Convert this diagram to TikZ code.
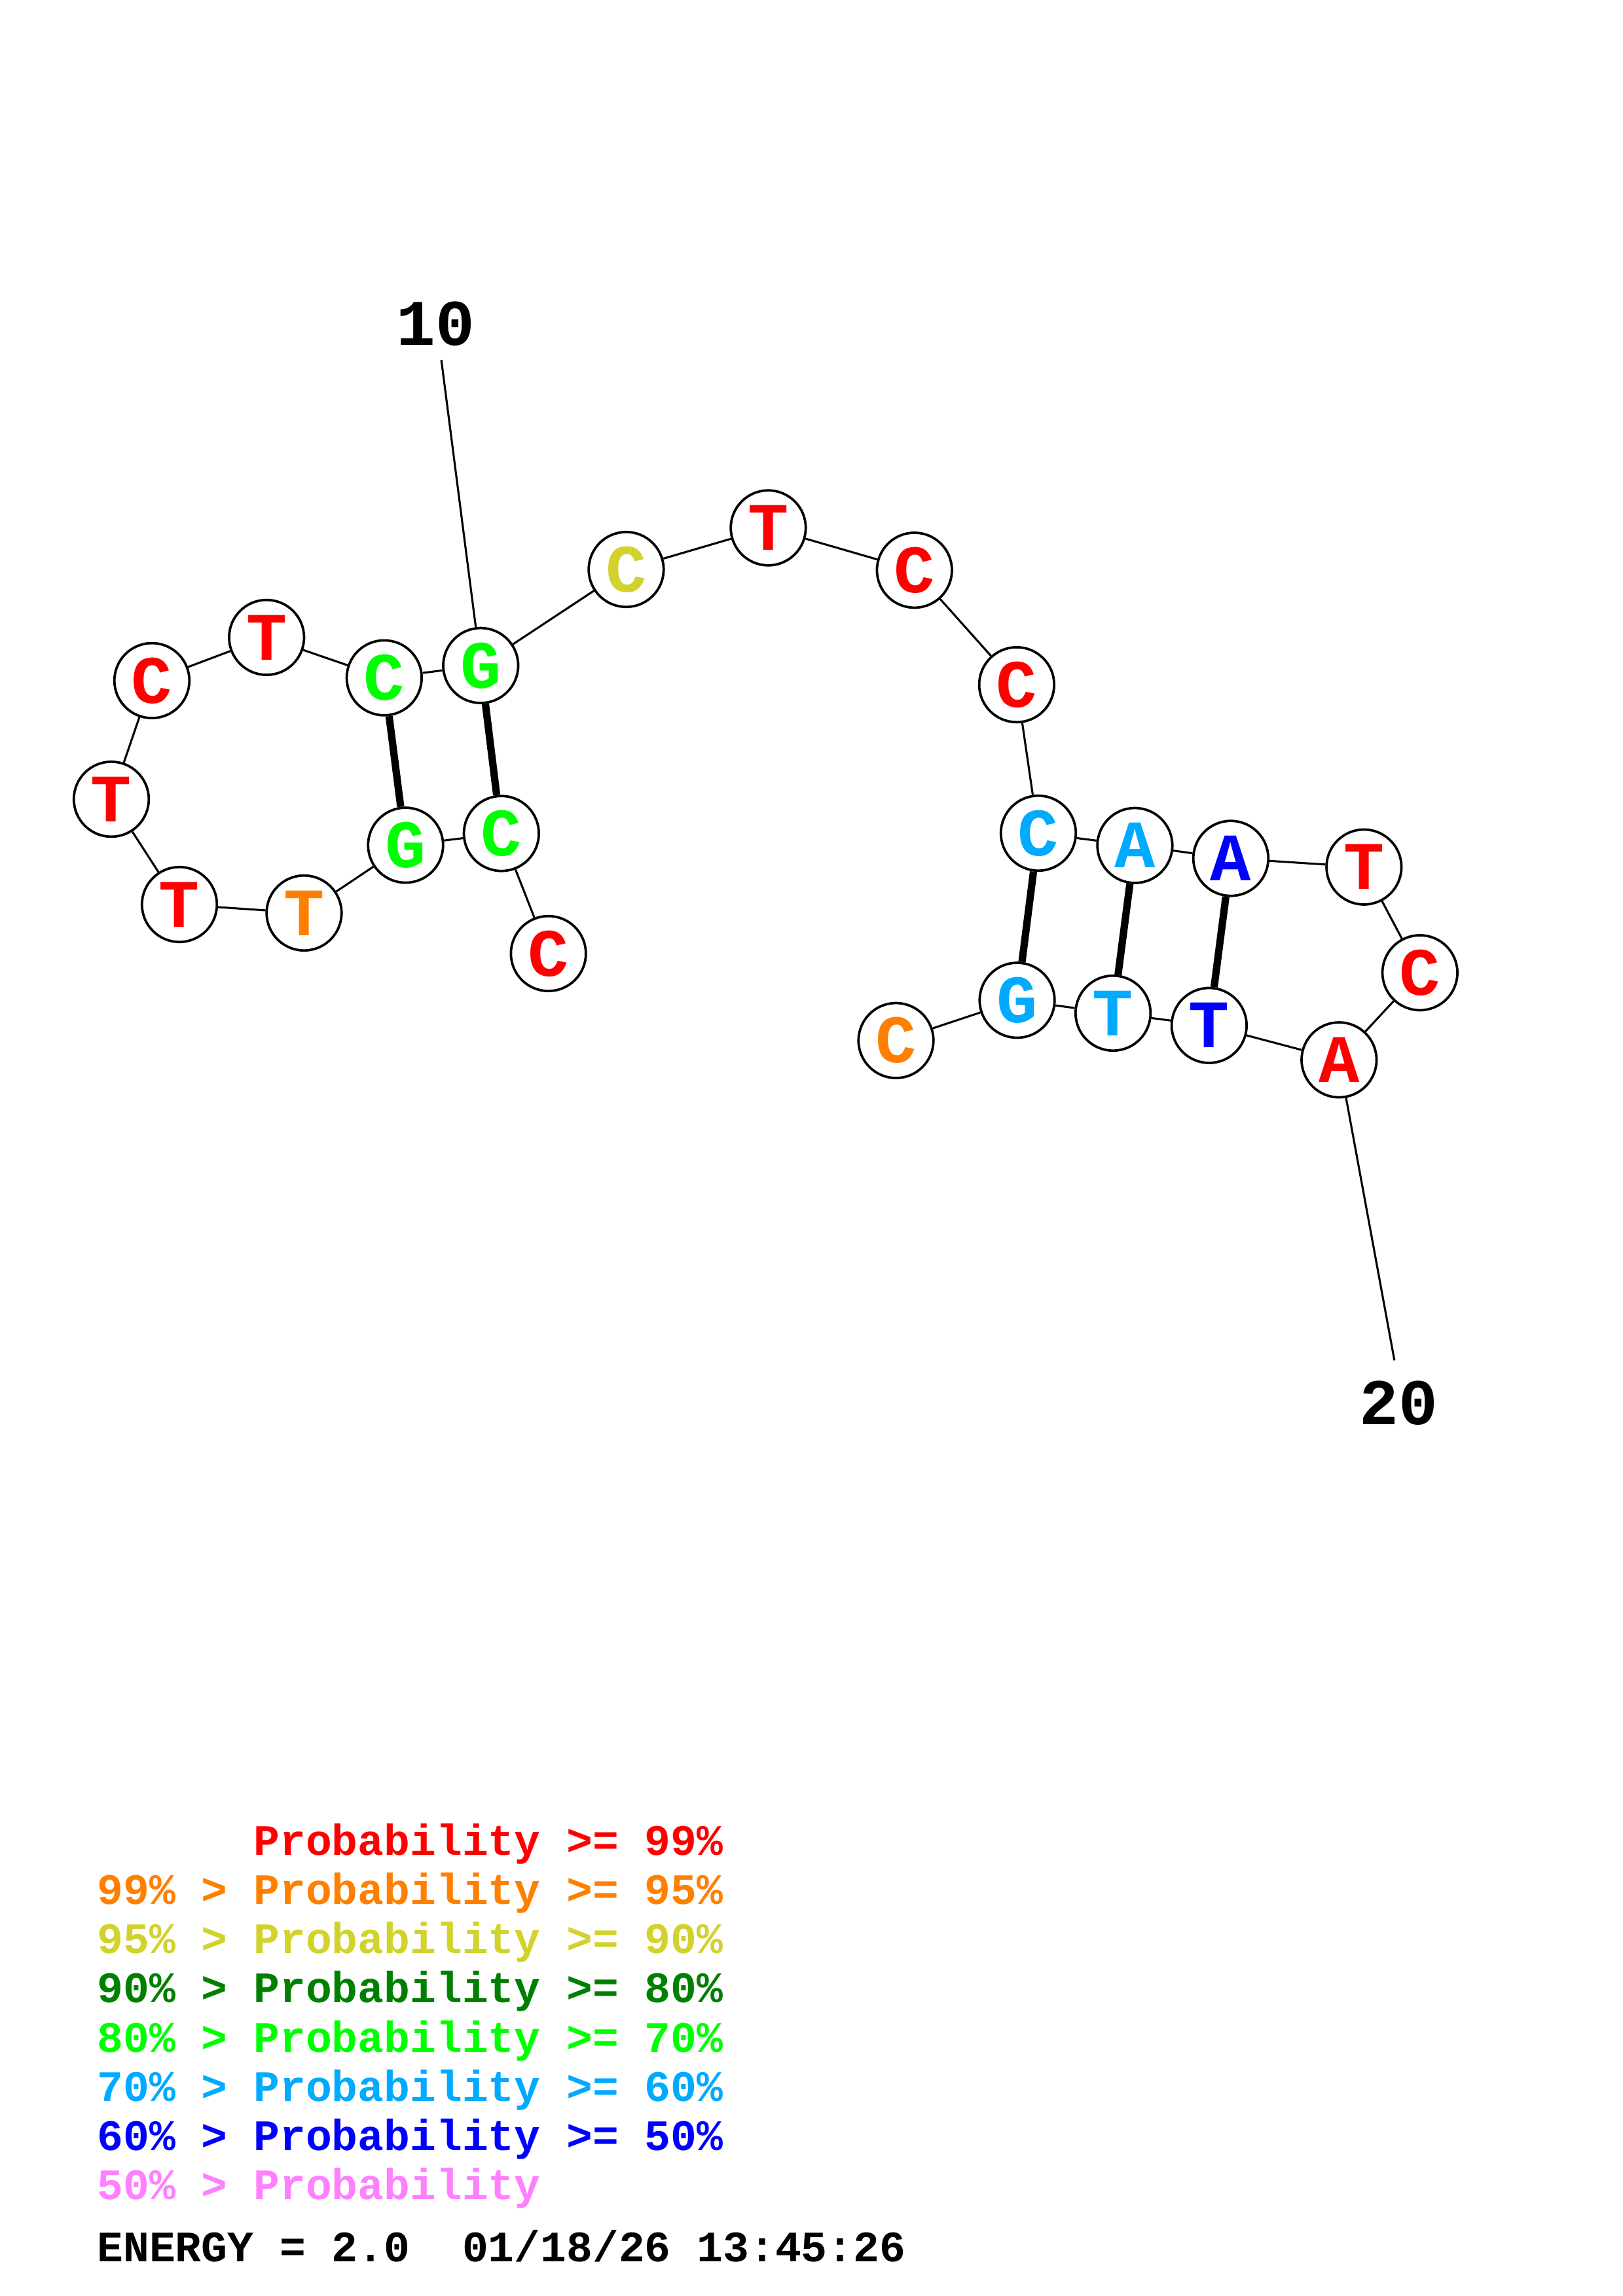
\documentclass[tikz,border=0pt]{standalone}
\usepackage{fontspec}
\setmonofont{Liberation Mono}
\usepackage{tikz}

\definecolor{pRed}{RGB}{255,0,0}
\definecolor{pOrange}{RGB}{255,128,0}
\definecolor{pYellow}{RGB}{210,210,45}
\definecolor{pDkGreen}{RGB}{0,128,0}
\definecolor{pGreen}{RGB}{0,255,0}
\definecolor{pCyan}{RGB}{0,170,255}
\definecolor{pBlue}{RGB}{0,0,255}
\definecolor{pPink}{RGB}{255,128,255}

\begin{document}
\begin{tikzpicture}[x=0.18953mm, y=-0.18953mm,
  base/.style={circle, draw, line width=0.9pt, fill=white, minimum size=9.7mm,
    inner sep=0pt, font=\ttfamily\bfseries\fontsize{25}{25}\selectfont},
  bond/.style={line width=0.75pt},
  pair/.style={line width=2.7pt},
  tag/.style={font=\ttfamily\bfseries\fontsize{24}{24}\selectfont},
  legend/.style={anchor=base west, inner sep=0pt,
    font=\ttfamily\bfseries\fontsize{16}{16}\selectfont}]
  \useasboundingbox (0,0) rectangle (1108,1568);

  % --- bases, 5' to 3' ---
  \node[base, text=pRed]     (n1)  at (374.4,651.2) {C};
  \node[base, text=pGreen]   (n2)  at (342.3,569.2) {C};
  \node[base, text=pGreen]   (n3)  at (276.9,577.2) {G};
  \node[base, text=pOrange]  (n4)  at (207.6,623.5) {T};
  \node[base, text=pRed]     (n5)  at (122.5,617.7) {T};
  \node[base, text=pRed]     (n6)  at (76.0,545.8)  {T};
  \node[base, text=pRed]     (n7)  at (103.7,464.8) {C};
  \node[base, text=pRed]     (n8)  at (182.0,435.3) {T};
  \node[base, text=pGreen]   (n9)  at (262.3,462.9) {C};
  \node[base, text=pGreen]   (n10) at (328.2,454.5) {G};
  \node[base, text=pYellow]  (n11) at (427.5,388.9) {C};
  \node[base, text=pRed]     (n12) at (524.5,360.5) {T};
  \node[base, text=pRed]     (n13) at (624.3,389.4) {C};
  \node[base, text=pRed]     (n14) at (694.1,467.6) {C};
  \node[base, text=pCyan]    (n15) at (708.9,569.0) {C};
  \node[base, text=pCyan]    (n16) at (774.8,577.4) {A};
  \node[base, text=pBlue]    (n17) at (840.3,586.2) {A};
  \node[base, text=pRed]     (n18) at (931.2,592.1) {T};
  \node[base, text=pRed]     (n19) at (969.4,664.3) {C};
  \node[base, text=pRed]     (n20) at (914.2,723.8) {A};
  \node[base, text=pBlue]    (n21) at (825.5,700.3) {T};
  \node[base, text=pCyan]    (n22) at (759.9,691.9) {T};
  \node[base, text=pCyan]    (n23) at (694.4,683.1) {G};
  \node[base, text=pOrange]  (n24) at (611.7,710.6) {C};

  % --- backbone ---
  \foreach \i [evaluate=\i as \j using int(\i+1)] in {1,...,23}
    \draw[bond] (n\i) -- (n\j);

  % --- base pairs ---
  \draw[pair] (n2) -- (n10);
  \draw[pair] (n3) -- (n9);
  \draw[pair] (n15) -- (n23);
  \draw[pair] (n16) -- (n22);
  \draw[pair] (n17) -- (n21);

  % --- position marks ---
  \node[tag] (t10) at (297.4,221.2) {10};
  \coordinate (c10) at (301.3,245.8);
  \draw[bond] (c10) -- (n10);
  \node[tag] (t20) at (955.0,958.0) {20};
  \coordinate (c20) at (952.0,929.0);
  \draw[bond] (c20) -- (n20);

  % --- legend ---
  \node[legend, text=pRed]     (l1) at (172.8,1266.9) {Probability >= 99\%};
  \node[legend, text=pOrange]  (l2) at (66,1300.5) {99\% > Probability >= 95\%};
  \node[legend, text=pYellow]  (l3) at (66,1334.1) {95\% > Probability >= 90\%};
  \node[legend, text=pDkGreen] (l4) at (66,1367.7) {90\% > Probability >= 80\%};
  \node[legend, text=pGreen]   (l5) at (66,1401.3) {80\% > Probability >= 70\%};
  \node[legend, text=pCyan]    (l6) at (66,1434.9) {70\% > Probability >= 60\%};
  \node[legend, text=pBlue]    (l7) at (66,1468.5) {60\% > Probability >= 50\%};
  \node[legend, text=pPink]    (l8) at (66,1502.1) {50\% > Probability};
  \node[legend]                (en) at (66,1544.3) {ENERGY = 2.0\ \ 01/18/26 13:45:26};
\end{tikzpicture}
\end{document}
